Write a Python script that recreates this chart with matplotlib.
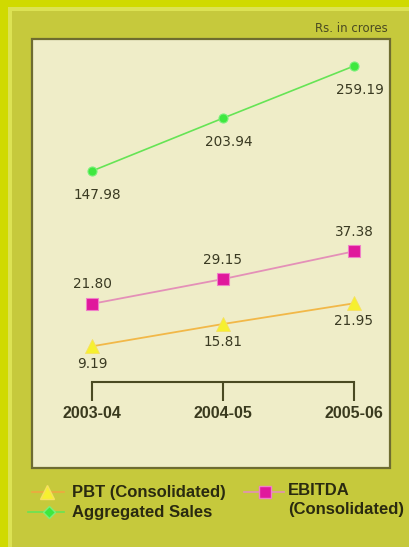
import matplotlib.pyplot as plt
from matplotlib.patches import Rectangle
from matplotlib.lines import Line2D

years = ["2003-04", "2004-05", "2005-06"]
sales = [147.98, 203.94, 259.19]
ebitda = [21.80, 29.15, 37.38]
pbt = [9.19, 15.81, 21.95]
unit_label = "Rs. in crores"

W, H = 410, 547


def fx(px):
    return px / W


def fy(py):
    return 1 - py / H


fig = plt.figure(figsize=(W / 100, H / 100), dpi=100)
fig.patch.set_facecolor("#d0da00")

# backdrop panels
fig.patches.append(Rectangle((fx(8), 0), 1, fy(7), transform=fig.transFigure,
                             facecolor="#dce254", edgecolor="none", zorder=-3))
fig.patches.append(Rectangle((fx(12), 0), 1, fy(11), transform=fig.transFigure,
                             facecolor="#c6c93c", edgecolor="none", zorder=-2))
fig.patches.append(Rectangle((fx(32), fy(468)), fx(390) - fx(32), fy(39) - fy(468),
                             transform=fig.transFigure, facecolor="#efedc8",
                             edgecolor="#6e6c30", linewidth=1.6, zorder=-1))

fig.text(fx(388), fy(32), unit_label, ha="right", va="baseline",
         fontsize=8.5, color="#4a4a22", family="DejaVu Sans")

# x mapping: index 0 -> px 92, index 2 -> px 354
x0, x2 = 92, 354
sx = (x2 - x0) / 2
xl = (-(x0 - 32) / sx, 2 + (390 - x2) / sx)
xs = range(len(years))

# upper axes for sales
ax_top = fig.add_axes([fx(32), fy(200), fx(390) - fx(32), fy(40) - fy(200)], zorder=2)
s_scale = (171 - 66) / (sales[2] - sales[0])
ax_top.set_xlim(*xl)
ax_top.set_ylim(sales[0] - (200 - 171) / s_scale, sales[2] + (66 - 40) / s_scale)
ax_top.axis("off")
ax_top.plot(xs, sales, color="#66e455", lw=1.2, marker="o", ms=6.5,
            mfc="#3ee83e", mec="#7af07a", mew=0.8)
for x, v in zip(xs, sales):
    ax_top.annotate(f"{v:.2f}", (x, v), xytext=(4, -17), textcoords="offset points",
                    ha="center", va="center", fontsize=9.8, color="#3a3a22")

# lower axes for EBITDA and PBT
ax = fig.add_axes([fx(32), fy(382), fx(390) - fx(32), fy(200) - fy(382)], zorder=2)
slope = 3.37
ax.set_xlim(*xl)
ax.set_ylim(22.55 - (382 - 301.3) / slope, 22.55 + (301.3 - 200) / slope)
ax.set_facecolor("none")
for s in ["top", "right", "left"]:
    ax.spines[s].set_visible(False)
ax.spines["bottom"].set_bounds(0, 2)
ax.spines["bottom"].set_color("#4a4a22")
ax.spines["bottom"].set_linewidth(1.5)
ax.set_yticks([])
ax.set_xticks(list(xs))
ax.set_xticklabels(years, fontsize=11.5, fontweight="bold", color="#3a3a1e",
                   family="Liberation Sans")
ax.tick_params(axis="x", direction="out", length=14, width=1.5, color="#4a4a22", pad=3)

ax.plot(xs, pbt, color="#f2b848", lw=1.3, marker="^", ms=10,
        mfc="#f6f030", mec="#f6e060", mew=0.6, zorder=3)
ax.plot(xs, ebitda, color="#e490b8", lw=1.3, marker="s", ms=8,
        mfc="#e0189c", mec="#f080c8", mew=0.8, zorder=3)
for x, v in zip(xs, ebitda):
    ax.annotate(f"{v:.2f}", (x, v), xytext=(0, 14), textcoords="offset points",
                ha="center", va="center", fontsize=9.8, color="#3a3a22")
for x, v in zip(xs, pbt):
    ax.annotate(f"{v:.2f}", (x, v), xytext=(0, -13), textcoords="offset points",
                ha="center", va="center", fontsize=9.8, color="#3a3a22")

# legend, drawn by hand to keep the two-line EBITDA label aligned at the top
legend_items = [
    ("PBT (Consolidated)", (32, 64), 47, 492, dict(color="#f0a840", marker="^", ms=10,
                                                   mfc="#f6f030", mec="#f6e060")),
    ("Aggregated Sales", (28, 64), 49, 512, dict(color="#66e455", marker="D", ms=6.5,
                                                 mfc="#3ee83e", mec="#7af07a")),
    ("EBITDA\n(Consolidated)", (244, 284), 265, 492, dict(color="#e490b8", marker="s", ms=8,
                                                         mfc="#e0189c", mec="#f080c8")),
]
for label, (la, lb), mx, y, style in legend_items:
    fig.add_artist(Line2D([fx(la), fx(lb)], [fy(y), fy(y)], lw=1.2,
                          color=style["color"], transform=fig.transFigure))
    fig.add_artist(Line2D([fx(mx)], [fy(y)], lw=0, marker=style["marker"], ms=style["ms"],
                          mfc=style["mfc"], mec=style["mec"], transform=fig.transFigure))
    tx = 72 if lb < 100 else 288
    fig.text(fx(tx), fy(y), label, ha="left", va="top" if "\n" in label else "center",
             fontsize=12, fontweight="bold", family="Liberation Sans", color="#2a2a10",
             linespacing=1.3, transform=fig.transFigure)
# shift the multi-line label so its first line sits on the row
fig.texts[-1].set_y(fy(492 - 9))

fig.savefig("out.png", dpi=100, facecolor=fig.get_facecolor())
